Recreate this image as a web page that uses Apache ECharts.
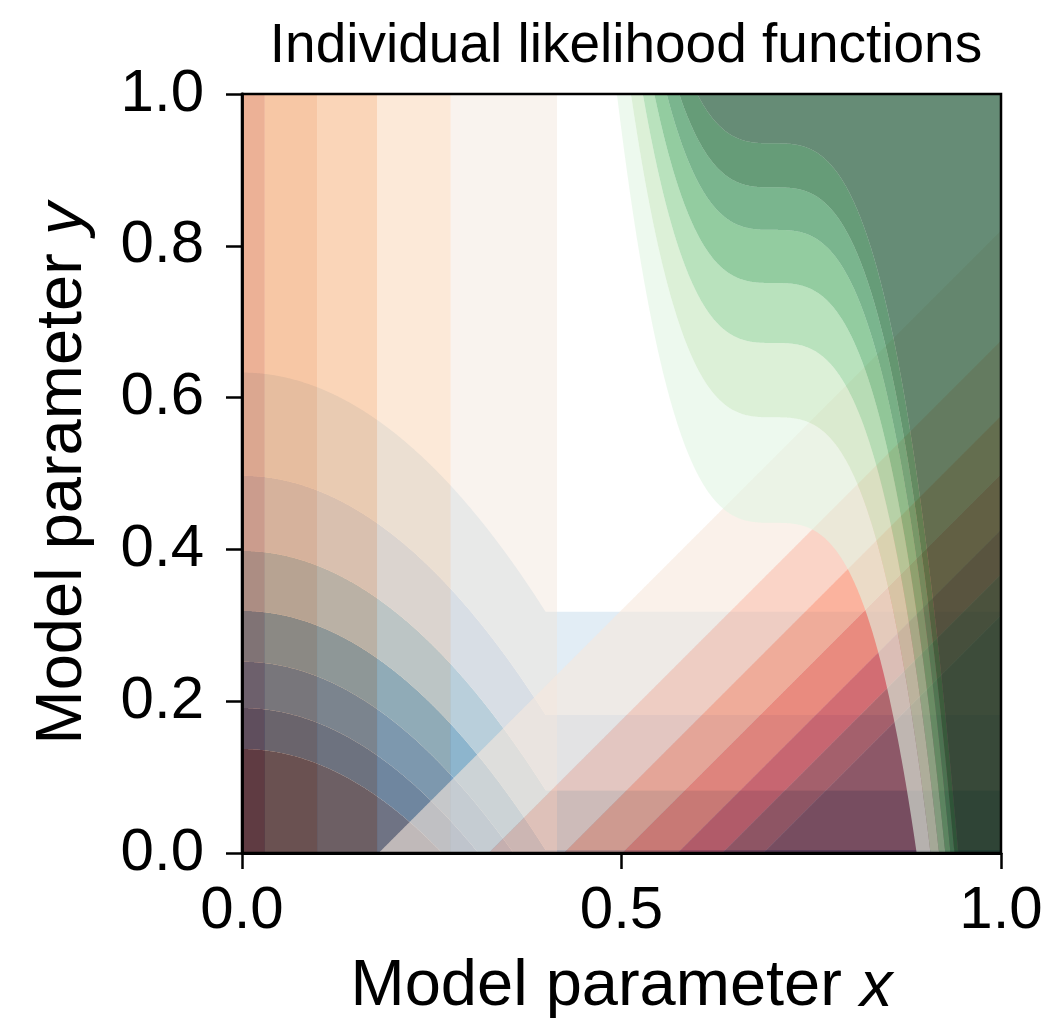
<!DOCTYPE html>
<html>
<head>
<meta charset="utf-8">
<script src="https://cdn.jsdelivr.net/npm/echarts@6/dist/echarts.min.js"></script>
<style>
  html, body { margin: 0; padding: 0; background: #ffffff; }
  #chart { width: 1051px; height: 1027px; }
</style>
</head>
<body>
<div id="chart"></div>
<script>
// ---------------- data ----------------
// Orange likelihood: depends on x only; band edges in x (darkest band first)
const orangeEdges = [0.000, 0.030, 0.099, 0.178, 0.275, 0.415];
// Blue likelihood: f = y + curvature * min(x, clipX)^2 ; contour levels of f
const blueLevels = [0.137, 0.191, 0.252, 0.319, 0.398, 0.497, 0.633];
const blueCurvature = 1.97;
const blueClipX = 0.400;
// Red likelihood: f = x - y ; contour levels of f
const redLevels = [0.180, 0.325, 0.424, 0.501, 0.574, 0.633, 0.687];
// Green likelihood: f = y + cubic * (x - center)^3 ; contour levels of f
const greenLevels = [0.435, 0.574, 0.672, 0.751, 0.821, 0.877, 0.935];
const greenCenter = 0.70;
const greenCubic = 64.6;
// axis ticks
const xTicks = [0.0, 0.5, 1.0];
const yTicks = [0.0, 0.2, 0.4, 0.6, 0.8, 1.0];

// ---------------- styles ----------------
const orangeColors = ['#d34a0b', '#ec7d2e', '#f39d5a', '#f8cca4', '#f1e3d7'];
const blueColors   = ['#08306b', '#08519c', '#2171b5', '#4292c6', '#8fc0dd', '#c6dbef', '#e2edf5'];
const redColors    = ['#f7e8dc', '#f6b8a2', '#f9805e', '#ef4a30', '#c8171c', '#8e0d14', '#67000d'];
const greenColors  = ['#e1f5e3', '#c5e6bc', '#8acf91', '#4baa61', '#218443', '#005a1e', '#003f1b'];
const ALPHA = { blue: 1.0, orange: 0.43, red: 0.6, green: 0.6 };
const N = 900; // sampling resolution of band boundaries

const clamp = v => Math.max(0, Math.min(1, v));

// polygon between lower(x) and upper(x), both clamped to [0,1]
function bandPolygon(api, lowerFn, upperFn) {
  const pts = [];
  for (let i = 0; i <= N; i++) { const x = i / N; pts.push(api.coord([x, clamp(upperFn(x))])); }
  for (let i = N; i >= 0; i--) { const x = i / N; pts.push(api.coord([x, clamp(lowerFn(x))])); }
  return pts;
}

function polyItem(points, color, alpha) {
  return { type: 'polygon', shape: { points: points }, style: { fill: color, opacity: alpha, lineWidth: 0 }, silent: true };
}

// band data: [lo, hi] per band
const BIG = 100;
const blueBands = blueLevels.map((hi, i) => [i === 0 ? -BIG : blueLevels[i - 1], hi]);
const redBands = redLevels.map((lo, i) => [lo, i === redLevels.length - 1 ? BIG : redLevels[i + 1]]);
const greenBands = greenLevels.map((lo, i) => [lo, i === greenLevels.length - 1 ? BIG : greenLevels[i + 1]]);
const orangeBands = orangeEdges.slice(0, -1).map((x0, i) => [x0, orangeEdges[i + 1]]);

const blueG = x => blueCurvature * Math.pow(Math.min(x, blueClipX), 2);
const greenG = x => greenCubic * Math.pow(x - greenCenter, 3);

const series = [
  {
    name: 'blue', type: 'custom', coordinateSystem: 'cartesian2d', data: blueBands,
    renderItem: (params, api) => {
      const lo = api.value(0), hi = api.value(1);
      return polyItem(bandPolygon(api, x => lo - blueG(x), x => hi - blueG(x)), blueColors[params.dataIndex], ALPHA.blue);
    }
  },
  {
    name: 'orange', type: 'custom', coordinateSystem: 'cartesian2d', data: orangeBands,
    renderItem: (params, api) => {
      const x0 = api.value(0), x1 = api.value(1);
      const pts = [api.coord([x0, 0]), api.coord([x1, 0]), api.coord([x1, 1]), api.coord([x0, 1])];
      return polyItem(pts, orangeColors[params.dataIndex], ALPHA.orange);
    }
  },
  {
    name: 'red', type: 'custom', coordinateSystem: 'cartesian2d', data: redBands,
    renderItem: (params, api) => {
      const lo = api.value(0), hi = api.value(1);
      return polyItem(bandPolygon(api, x => x - hi, x => x - lo), redColors[params.dataIndex], ALPHA.red);
    }
  },
  {
    name: 'green', type: 'custom', coordinateSystem: 'cartesian2d', data: greenBands,
    renderItem: (params, api) => {
      const lo = api.value(0), hi = api.value(1);
      return polyItem(bandPolygon(api, x => lo - greenG(x), x => hi - greenG(x)), greenColors[params.dataIndex], ALPHA.green);
    }
  }
];

const FONT = '"Liberation Sans", Arial, Helvetica, sans-serif';
const chart = echarts.init(document.getElementById('chart'), null, { renderer: 'canvas' });
chart.setOption({
  animation: false,
  backgroundColor: '#ffffff',
  title: {
    text: 'Individual likelihood functions',
    left: 621, top: 14, textAlign: 'center',
    textStyle: { fontFamily: FONT, fontSize: 55, fontWeight: 'normal', color: '#000' }
  },
  grid: { left: 242, right: 50, top: 94, bottom: 174, show: true, borderColor: '#000', borderWidth: 2.5, backgroundColor: 'transparent', z: 10 },
  xAxis: {
    type: 'value', min: xTicks[0], max: xTicks[xTicks.length - 1], interval: xTicks[1] - xTicks[0],
    name: '{n|Model parameter }{i|x}', nameLocation: 'middle', nameGap: 102,
    nameTextStyle: { rich: {
      n: { fontFamily: FONT, fontSize: 65, color: '#000' },
      i: { fontFamily: FONT, fontSize: 65, fontStyle: 'italic', color: '#000' } } },
    axisLine: { show: true, lineStyle: { color: '#000', width: 2.8 } },
    axisTick: { show: true, inside: false, length: 16, lineStyle: { color: '#000', width: 2.5 } },
    axisLabel: { margin: 28, fontFamily: FONT, fontSize: 60, color: '#000', formatter: v => v.toFixed(1) },
    splitLine: { show: false }, z: 20
  },
  yAxis: {
    type: 'value', min: yTicks[0], max: yTicks[yTicks.length - 1], interval: yTicks[1] - yTicks[0],
    name: '{n|Model parameter }{i|y}', nameLocation: 'middle', nameGap: 146, nameRotate: 90,
    nameTextStyle: { rich: {
      n: { fontFamily: FONT, fontSize: 65, color: '#000' },
      i: { fontFamily: FONT, fontSize: 65, fontStyle: 'italic', color: '#000' } } },
    axisLine: { show: true, lineStyle: { color: '#000', width: 2.8 } },
    axisTick: { show: true, inside: false, length: 16, lineStyle: { color: '#000', width: 2.5 } },
    axisLabel: { margin: 38, fontFamily: FONT, fontSize: 60, color: '#000', formatter: v => v.toFixed(1) },
    splitLine: { show: false }, z: 20
  },
  series: series
});
</script>
</body>
</html>
